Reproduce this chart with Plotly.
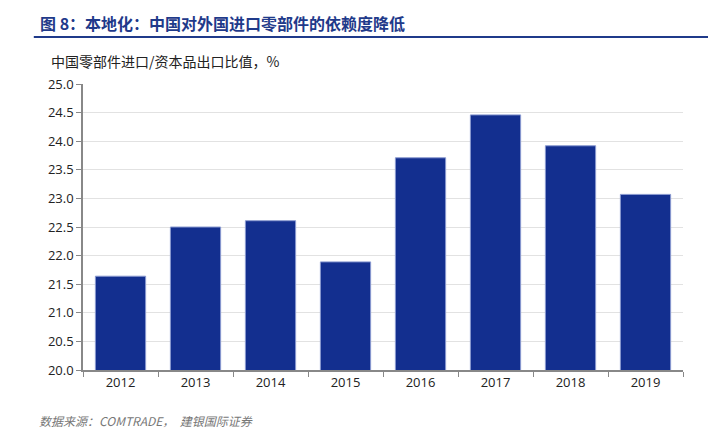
import plotly.graph_objects as go

years = ["2012", "2013", "2014", "2015", "2016", "2017", "2018", "2019"]
values = [21.64, 22.50, 22.61, 21.89, 23.71, 24.46, 23.92, 23.07]
y_ticks = [20.0, 20.5, 21.0, 21.5, 22.0, 22.5, 23.0, 23.5, 24.0, 24.5, 25.0]

title = "图 8：本地化：中国对外国进口零部件的依赖度降低"
subtitle = "中国零部件进口/资本品出口比值，%"
source = "数据来源：COMTRADE，  建银国际证券"

fig = go.Figure()
fig.add_trace(go.Bar(
    x=years, y=values,
    marker=dict(color="#132F8F", line=dict(color="#8A9AD0", width=1)),
))

fig.update_layout(
    width=708, height=445,
    margin=dict(l=83, r=25, t=84, b=75),
    plot_bgcolor="white", paper_bgcolor="white",
    bargap=0.33,
    showlegend=False,
    font=dict(family="Noto Sans CJK SC, sans-serif", color="#222"),
    xaxis=dict(
        type="category",
        tickson="boundaries",
        ticks="outside", ticklen=5, tickcolor="#888",
        showline=True, linecolor="#888", linewidth=1.5,
        showgrid=False,
        tickfont=dict(family="Open Sans", size=13, color="#222"),
    ),
    yaxis=dict(
        range=[20, 25],
        tickvals=y_ticks,
        ticktext=[f"{v:.1f}" for v in y_ticks],
        ticks="outside", ticklen=5, tickcolor="#888",
        showline=True, linecolor="#888", linewidth=1.5,
        showgrid=True, gridcolor="#e2e2e2", gridwidth=1,
        zeroline=False,
        tickfont=dict(family="Open Sans", size=13, color="#222"),
    ),
)

fig.add_annotation(
    text=title, xref="paper", yref="paper", x=-0.075, y=1.213,
    xanchor="left", yanchor="middle", showarrow=False,
    font=dict(family="Noto Sans CJK SC", size=16, color="#1F3A8A", weight="bold"),
)
fig.add_shape(
    type="line", xref="paper", yref="paper",
    x0=-0.082, x1=1.05, y0=1.164, y1=1.164,
    line=dict(color="#1F3A8A", width=2),
)
fig.add_annotation(
    text=subtitle, xref="paper", yref="paper", x=-0.057, y=1.08,
    xanchor="left", yanchor="middle", showarrow=False,
    font=dict(family="Noto Sans CJK SC", size=14, color="#222"),
)
fig.add_annotation(
    text="<i>" + source + "</i>", xref="paper", yref="paper", x=-0.077, y=-0.178,
    xanchor="left", yanchor="middle", showarrow=False,
    font=dict(family="Noto Sans CJK SC", size=12, color="#777"),
)

fig.write_html("out.html", config={"displayModeBar": False},
               post_script="document.body.style.margin='0';")
